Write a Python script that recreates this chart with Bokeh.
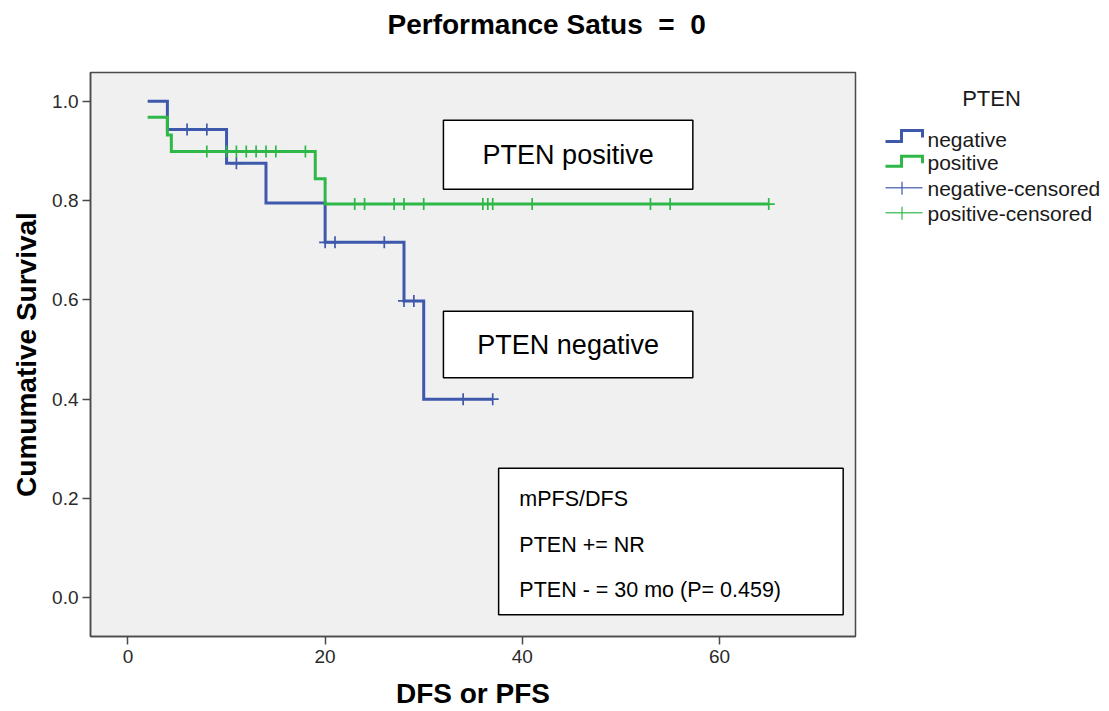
import numpy as np
from bokeh.plotting import figure
from bokeh.models import (Range1d, FixedTicker, NumeralTickFormatter, Label, BoxAnnotation,
                          ColumnDataSource, Title)
from bokeh.layouts import row
from bokeh.embed import file_html
from bokeh.resources import INLINE
from bokeh.core.properties import value

# ---------------- data ----------------
neg_times = [2, 4, 10, 14, 20, 28, 30, 37]
neg_surv = [1.0, 0.943, 0.875, 0.795, 0.716, 0.598, 0.400, 0.400]
neg_censored = [6, 8, 11, 20, 21, 26, 28, 29, 34, 37]

pos_times = [2, 4, 4.4, 19, 20, 65]
pos_surv = [0.968, 0.932, 0.899, 0.844, 0.793, 0.793]
pos_censored = [8, 10, 11, 12, 13, 14, 15, 18, 23, 24, 27, 28, 30, 36, 36.5, 37, 41, 53, 55, 65]

x_ticks = [0, 20, 40, 60]
y_ticks = [0.0, 0.2, 0.4, 0.6, 0.8, 1.0]
legend_title = "PTEN"
legend_labels = ["negative", "positive", "negative-censored", "positive-censored"]
title_text = "Performance Satus\u00a0\u00a0=\u00a0\u00a00"
x_label = "DFS or PFS"
y_label = "Cumumative Survival"
box_pos_text = "PTEN positive"
box_neg_text = "PTEN negative"
stats_lines = ["mPFS/DFS", "PTEN += NR", "PTEN - = 30 mo (P= 0.459)"]

BLUE = "#3E58AC"
GREEN = "#2EB848"
FONT = "Liberation Sans"
FRAME = "#4a4a4a"


def surv_at(times, surv, ts):
    idx = np.searchsorted(np.array(times, dtype=float), np.array(ts, dtype=float), side="right") - 1
    return [surv[i] for i in idx]


# ---------------- main plot ----------------
p = figure(width=870, height=711, title=None,
           x_range=Range1d(-3.8, 73.8), y_range=Range1d(-0.078, 1.058),
           output_backend="svg", toolbar_location=None,
           min_border_left=90, min_border_right=15, min_border_top=72, min_border_bottom=74)
p.background_fill_color = "#F0F0F0"
p.border_fill_color = "white"
p.grid.visible = False
p.outline_line_color = FRAME
p.outline_line_width = 1.5

p.xaxis.ticker = FixedTicker(ticks=x_ticks)
p.yaxis.ticker = FixedTicker(ticks=y_ticks)
p.yaxis.formatter = NumeralTickFormatter(format="0.0")
for ax in (p.xaxis, p.yaxis):
    ax.major_tick_out = 8
    ax.major_tick_in = 0
    ax.minor_tick_out = 0
    ax.minor_tick_in = 0
    ax.major_tick_line_color = FRAME
    ax.major_tick_line_width = 1.5
    ax.axis_line_color = FRAME
    ax.axis_line_width = 1.5
    ax.major_label_text_font = FONT
    ax.major_label_text_font_size = "19px"
    ax.major_label_text_color = "#2a2a2a"
    ax.axis_label_text_font = FONT
    ax.axis_label_text_font_size = "28px"
    ax.axis_label_text_font_style = "bold"
    ax.axis_label_text_color = "black"
p.yaxis.major_label_standoff = 4
p.xaxis.major_label_standoff = 5
p.xaxis.axis_label = x_label
p.yaxis.axis_label = y_label
p.xaxis.axis_label_standoff = 12
p.yaxis.axis_label_standoff = 7

# title: a trailing empty line lifts the text well above the frame
p.add_layout(Title(text=title_text + "\n", align="left", offset=297, standoff=0, vertical_align="bottom",
                   text_font=FONT, text_font_size="28px", text_font_style="bold",
                   text_line_height=1.05, text_color="black"), "above")

# annotation boxes
for (l, r, b, t) in [(32.0, 57.3, 0.823, 0.962), (32.0, 57.3, 0.443, 0.577), (37.6, 72.55, -0.034, 0.261)]:
    p.add_layout(BoxAnnotation(left=l, right=r, bottom=b, top=t, fill_color="white", fill_alpha=1.0,
                               line_color="black", line_width=1.5, line_alpha=1.0, level="underlay"))

# curves
neg_src = ColumnDataSource(dict(t=neg_times, s=neg_surv))
pos_src = ColumnDataSource(dict(t=pos_times, s=pos_surv))
p.step("t", "s", source=neg_src, mode="after", line_width=3, line_color=BLUE, line_join="miter")
p.scatter(neg_censored, surv_at(neg_times, neg_surv, neg_censored), marker="cross", size=12,
          line_width=1.7, line_color=BLUE)
p.step("t", "s", source=pos_src, mode="after", line_width=3, line_color=GREEN, line_join="miter")
p.scatter(pos_censored, surv_at(pos_times, pos_surv, pos_censored), marker="cross", size=12,
          line_width=1.7, line_color=GREEN)

# box texts
p.add_layout(Label(x=44.65, y=0.891, text=box_pos_text, text_align="center", text_baseline="middle",
                   text_font=FONT, text_font_size="27px", text_color="black"))
p.add_layout(Label(x=44.65, y=0.509, text=box_neg_text, text_align="center", text_baseline="middle",
                   text_font=FONT, text_font_size="27px", text_color="black"))
for txt, yy in zip(stats_lines, [0.198, 0.107, 0.015]):
    p.add_layout(Label(x=39.7, y=yy, text=txt, text_align="left", text_baseline="middle",
                       text_font=FONT, text_font_size="21.5px", text_color="black"))

# ---------------- legend panel (pixel coordinates of the page) ----------------
lg = figure(width=239, height=711, x_range=Range1d(0, 239), y_range=Range1d(637, 72),
            x_axis_type=None, y_axis_type=None, output_backend="svg", toolbar_location=None,
            min_border=0, title=None)
lg.grid.visible = False
lg.outline_line_color = None
lg.background_fill_color = "white"
lg.border_fill_color = "white"

lg.text(x=[121], y=[98], text=[legend_title], text_align="center", text_baseline="middle",
        text_font=value(FONT), text_font_size="22px", text_color="#1a1a1a")
lg.text(x=[57] * 4, y=[139, 162, 188, 213], text=legend_labels, text_align="left",
        text_baseline="alphabetic", text_font=value(FONT), text_font_size="21px", text_color="#1a1a1a")

# step-shaped symbols
lg.line([15, 31, 31, 52, 52], [141, 141, 130, 130, 137], line_color=BLUE, line_width=3, line_join="miter")
lg.line([15, 31, 31, 52, 52], [166, 166, 156, 156, 163], line_color=GREEN, line_width=3, line_join="miter")
# censored symbols
lg.line([15, 52], [187.5, 187.5], line_color=BLUE, line_width=1.5, line_alpha=0.8)
lg.line([31.5, 31.5], [181.5, 194.5], line_color=BLUE, line_width=1.5, line_alpha=0.8)
lg.line([15, 52], [212.5, 212.5], line_color=GREEN, line_width=1.5, line_alpha=0.8)
lg.line([31.5, 31.5], [206.5, 219.5], line_color=GREEN, line_width=1.5, line_alpha=0.8)

layout = row(p, lg, spacing=0)
open("out.html", "w").write(file_html(layout, INLINE))
